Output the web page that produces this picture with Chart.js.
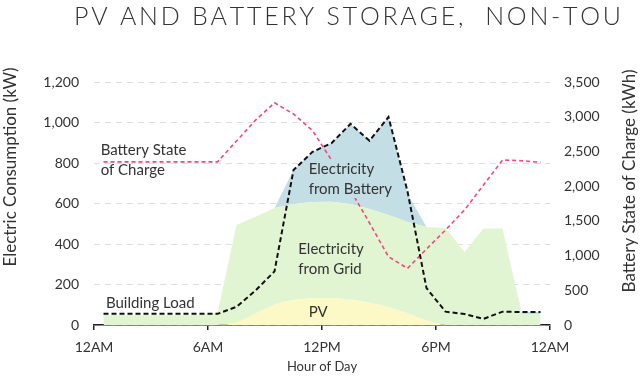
<!DOCTYPE html>
<html>
<head>
<meta charset="utf-8">
<script src="https://cdn.jsdelivr.net/npm/chart.js@4.4.1/dist/chart.umd.min.js"></script>
<style>
  body { margin: 0; background: #fff; }
</style>
</head>
<body>
<canvas id="miGrafico" width="640" height="376"></canvas>
<script>
// hour of day (middle of each hourly bin)
const hours = [0.5, 1.5, 2.5, 3.5, 4.5, 5.5, 6.5, 7.5, 8.5, 9.5, 10.5, 11.5,
               12.5, 13.5, 14.5, 15.5, 16.5, 17.5, 18.5, 19.5, 20.5, 21.5, 22.5, 23.5];

// kW, stacked
const pv      = [0, 0, 0, 0, 0, 0, 0, 12, 55, 100, 123, 132, 133, 125, 110, 88, 58, 22, 0, 0, 0, 0, 0, 0];
const grid    = [50, 50, 50, 50, 50, 50, 60, 482, 480, 478, 474, 475, 476, 472, 463, 455, 451, 462, 479, 362, 477, 477, 54, 54];
const battery = [0, 0, 0, 0, 0, 0, 0, 0, 0, 0, 168, 248, 289, 396, 337, 484, 140, 0, 0, 0, 0, 0, 10, 10];

// kW
const buildingLoad = [55, 55, 55, 55, 55, 55, 55, 90, 170, 265, 765, 855, 898, 993, 910, 1027, 660, 182, 66, 54, 30, 66, 64, 64];
// kWh
const stateOfCharge = [2350, 2350, 2350, 2350, 2350, 2350, 2350, 2650, 2950, 3200, 3040, 2800, 2376, 1944, 1469, 983, 816, 1094, 1368, 1656, 2016, 2376, 2366, 2343];

const xTickLabels = ['12AM', '6AM', '12PM', '6PM', '12AM'];

const TITLE = 'PV AND BATTERY STORAGE,  NON-TOU';
const FONT = 'Lato';
const TEXT = '#333';

const C_PV = '#fdf9c6';
const C_GRID = '#e2f5d2';
const C_BATT = '#c4dee6';

function pts(vals) {
    return hours.map(function (h, i) { return { x: h, y: vals[i] }; });
}

// labels inside the plot, anchored in data units (hour, kW)
const notes = [
    { lines: ['Battery State', 'of Charge'], hour: 0.35, kw: 864 },
    { lines: ['Electricity', 'from Battery'], hour: 11.3, kw: 770, bg: C_BATT },
    { lines: ['Electricity', 'from Grid'], hour: 10.75, kw: 375 },
    { lines: ['Building Load'], hour: 0.63, kw: 110 },
    { lines: ['PV'], hour: 11.3, kw: 61 }
];

function drawSpaced(ctx, text, left, y, width) {
    var chars = text.split('');
    var widths = chars.map(function (c) { return ctx.measureText(c).width; });
    var total = widths.reduce(function (a, b) { return a + b; }, 0);
    var gap = (width - total) / (chars.length - 1);
    var cx = left;
    ctx.textAlign = 'left';
    chars.forEach(function (c, i) {
        ctx.fillText(c, cx, y);
        cx += widths[i] + gap;
    });
}

const textPlugin = {
    id: 'chartText',
    afterDraw: function (chart) {
        var ctx = chart.ctx;
        var xs = chart.scales.x, ys = chart.scales.y;
        ctx.save();
        ctx.fillStyle = TEXT;
        ctx.textBaseline = 'middle';

        // title
        ctx.font = '300 25px ' + FONT;
        drawSpaced(ctx, TITLE, 74, 17, 547);

        // axis titles
        ctx.font = '17px ' + FONT;
        ctx.textAlign = 'center';
        ctx.save();
        ctx.translate(11, 167);
        ctx.rotate(-Math.PI / 2);
        ctx.fillText('Electric Consumption (kW)', 0, 0);
        ctx.restore();
        ctx.save();
        ctx.translate(630, 181);
        ctx.rotate(-Math.PI / 2);
        ctx.fillText('Battery State of Charge (kWh)', 0, 0);
        ctx.restore();

        // notes
        ctx.font = '15px ' + FONT;
        ctx.textAlign = 'left';
        notes.forEach(function (n) {
            var px = xs.getPixelForValue(n.hour);
            var py = ys.getPixelForValue(n.kw);
            if (n.bg) {
                var w = Math.max.apply(null, n.lines.map(function (l) { return ctx.measureText(l).width; }));
                ctx.fillStyle = n.bg;
                ctx.fillRect(px - 2, py - 9, w + 4, n.lines.length * 20 - 2);
                ctx.fillStyle = TEXT;
            }
            n.lines.forEach(function (l, i) {
                ctx.fillText(l, px, py + i * 20);
            });
        });
        ctx.restore();
    }
};

const GRAFICO = document.getElementById('miGrafico');

let grafico = new Chart(GRAFICO, {
    type: 'line',
    data: {
        datasets: [
            {
                label: 'Building Load',
                data: pts(buildingLoad),
                yAxisID: 'y',
                stack: 'load',
                borderColor: '#111',
                borderWidth: 2,
                borderDash: [5, 3],
                pointRadius: 0,
                fill: false,
                tension: 0
            },
            {
                label: 'Battery State of Charge',
                data: pts(stateOfCharge),
                yAxisID: 'y2',
                borderColor: '#ef4a7c',
                borderWidth: 1.6,
                borderDash: [4, 3],
                pointRadius: 0,
                fill: false,
                tension: 0
            },
            {
                label: 'PV',
                data: pts(pv),
                yAxisID: 'y',
                stack: 'areas',
                backgroundColor: C_PV,
                borderWidth: 0,
                pointRadius: 0,
                fill: 'origin',
                tension: 0.3
            },
            {
                label: 'Electricity from Grid',
                data: pts(grid),
                yAxisID: 'y',
                stack: 'areas',
                backgroundColor: C_GRID,
                borderWidth: 0,
                pointRadius: 0,
                fill: '-1',
                tension: 0
            },
            {
                label: 'Electricity from Battery',
                data: pts(battery),
                yAxisID: 'y',
                stack: 'areas',
                backgroundColor: C_BATT,
                borderWidth: 0,
                pointRadius: 0,
                fill: '-1',
                tension: 0
            }
        ]
    },
    options: {
        responsive: false,
        animation: false,
        devicePixelRatio: 1,
        layout: { padding: { top: 82, left: 0, right: 0, bottom: 0 } },
        plugins: {
            legend: { display: false },
            tooltip: { enabled: false }
        },
        scales: {
            x: {
                type: 'linear',
                min: 0,
                max: 24,
                afterFit: function (s) { s.height = 51; },
                ticks: {
                    stepSize: 6,
                    autoSkip: false,
                    maxRotation: 0,
                    padding: 9,
                    color: TEXT,
                    font: { family: FONT, size: 14 },
                    callback: function (v) { return xTickLabels[v / 6]; }
                },
                grid: { drawOnChartArea: false, drawTicks: true, tickLength: 5, color: '#222', lineWidth: 1.5 },
                border: { display: true, color: '#222', width: 1.5 },
                title: {
                    display: true,
                    text: 'Hour of Day',
                    color: TEXT,
                    font: { family: FONT, size: 13 },
                    padding: { top: 0, bottom: 1 }
                }
            },
            y: {
                position: 'left',
                stacked: true,
                min: 0,
                max: 1200,
                afterFit: function (s) { s.width = 94; },
                ticks: {
                    stepSize: 200,
                    padding: 15,
                    color: TEXT,
                    font: { family: FONT, size: 14 }
                },
                grid: { color: '#dddddd', lineWidth: 1, drawTicks: false },
                border: { display: false, dash: [6, 5] }
            },
            y2: {
                position: 'right',
                min: 0,
                max: 3500,
                afterFit: function (s) { s.width = 90; },
                ticks: {
                    stepSize: 500,
                    padding: 14,
                    color: TEXT,
                    font: { family: FONT, size: 14 }
                },
                grid: { display: false, drawTicks: false },
                border: { display: false }
            }
        }
    },
    plugins: [textPlugin]
});
</script>
</body>
</html>
